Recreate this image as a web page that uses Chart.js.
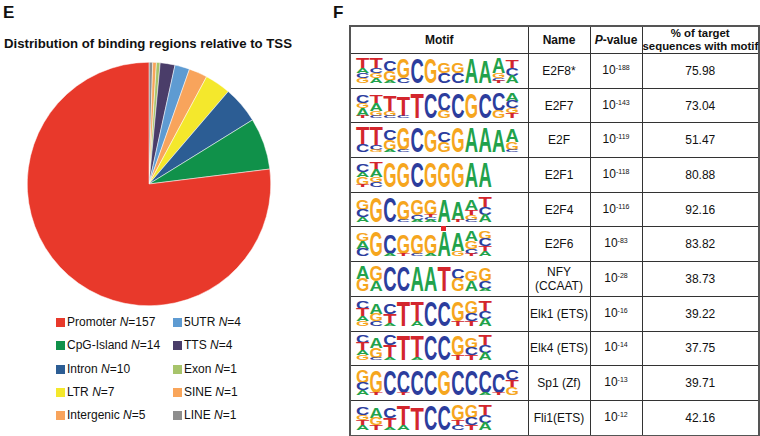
<!DOCTYPE html>
<html><head><meta charset="utf-8">
<script src="https://cdn.jsdelivr.net/npm/chart.js@4"></script>
<style>
body{margin:0;width:760px;height:436px;background:#fff;font-family:"Liberation Sans",Arial,sans-serif;position:relative;overflow:hidden;color:#111}
.panel{position:absolute;font-weight:bold;font-size:17px;line-height:17px}
#title{position:absolute;left:4px;top:37px;font-weight:bold;font-size:13.2px;line-height:14px;white-space:nowrap}
#pieWrap{position:absolute;left:27px;top:62px;width:244px;height:244px}
#legend{position:absolute;left:56px;top:314px;font-size:12px}
.li{position:absolute;white-space:nowrap;height:16px;line-height:16px}
.sw{display:inline-block;width:9px;height:9px;margin-right:2px;vertical-align:-1px}
table{position:absolute;left:349px;top:25px;width:409px;border-collapse:collapse;border:2px solid #555;font-size:12px;table-layout:fixed}
td,th{border:1px solid #333;text-align:center;padding:0;vertical-align:middle;overflow:visible}
th{font-weight:bold;height:25px;line-height:13px;white-space:nowrap}
th.last{font-size:11.4px}
td{height:33.7px;line-height:14px}
.sup{font-size:7px;position:relative;top:-4px}
svg{overflow:visible}
#mark{position:absolute;left:441px;top:226px;width:5px;height:5px;background:#e8262b}
</style></head>
<body>
<div class="panel" style="left:3px;top:4px">E</div>
<div class="panel" style="left:333px;top:4px">F</div>
<div id="title">Distribution of binding regions relative to TSS</div>
<div id="pieWrap"><canvas id="pie" width="244" height="244"></canvas></div>
<div id="legend"></div>
<table id="tbl"></table>
<div id="mark"></div>
<script>
// ---- Panel E data ----
const regionLabels = ["Promoter","CpG-Island","Intron","LTR","Intergenic","5UTR","TTS","Exon","SINE","LINE"];
const regionCounts = [157,14,10,7,5,4,4,1,1,1];
const regionColors = ["#e8392b","#10914a","#2c5d94","#f4e82c","#f8a45c","#5e9bd2","#4a3d69","#a7c46b","#f9a55a","#8e8e8e"];

// ---- Panel F data ----
const tableHeaders = ["Motif","Name","<i>P</i>-value","% of target<br>sequences with motif"];
const motifNames = ["E2F8*","E2F7","E2F","E2F1","E2F4","E2F6","NFY<br>(CCAAT)","Elk1 (ETS)","Elk4 (ETS)","Sp1 (Zf)","Fli1(ETS)"];
const motifPExp = ["-188","-143","-119","-118","-116","-83","-28","-16","-14","-13","-12"];
const motifPercent = ["75.98","73.04","51.47","80.88","92.16","83.82","38.73","39.22","37.75","39.71","42.16"];
const motifLogos = [
 "T4A2C2G2 T4C2G2A2 C4G4A1 G8C2 C10 G10 G4C4 G4C4 A10 A9 A6G2C1T1 T3C3A3",
 "C3G2A3T1 T3A3G2C1 T6G2C1 T8C1 T10 C10 C7G3 C10 G10 C10 C7G3 A3C3G2T2",
 "T7C3 T7C2G1 C4G4A1 G9C1 C10 G9 C4G4 G10 A10 A10 A9 A5G3C1",
 "C3A2G3T1 T3A3G2C2 G10 G10 C10 G10 G10 G10 A10 A10",
 "G4C3A2 G10 C10 G8C1 G6C2A1 G6T1C1A1 A9 A7T1 A4T2G2C1 T4C3A3",
 "G3A3C3 G10 C8A1 G8T1 G8C1 G8A1 A10 A7G2 A4G3C2T1 G3C3T2A2",
 "A5G5 G6A4 C10 C10 A10 A10 T10 C4G5 G4A4 G5C3A1",
 "C3T3A2G2 A4G3C2 C4T4A1 T10 T8A2 C10 C10 G8T2 G5C3T2 T4C3A3",
 "C3T3A2G2 A4G4C1 C4T5A1 T10 T9A1 C10 C10 G8T2 G4C3T2 T4C3A3",
 "G5C3A2 G9T1 C10 C9T1 C10 C10 G10 C10 C10 C9A1 C8T1 C4T3G3",
 "C3G2T2A2 A4G3T2 C4T4A1 T8A2 T9 C10 C10 G6T2C2 G5C3T2 T4C3A3"
];
const letterColor = {A:"#22a24b",C:"#2c3d9d",G:"#f6a61e",T:"#d3262d"};

// ---- Pie (drawn counter-clockwise order as in the figure) ----
new Chart(document.getElementById("pie"), {
  type: "pie",
  data: {
    labels: regionLabels.slice().reverse(),
    datasets: [{
      data: regionCounts.slice().reverse(),
      backgroundColor: regionColors.slice().reverse(),
      borderColor: "#ffffff",
      borderWidth: 0.5
    }]
  },
  options: {
    responsive: false, animation: false, devicePixelRatio: 1,
    layout: {padding: 0},
    plugins: {legend: {display: false}, tooltip: {enabled: false}}
  }
});

// ---- Legend (two columns) ----
const leg = document.getElementById("legend");
regionLabels.forEach((lab, i) => {
  const col = Math.floor(i / 5), row = i % 5;
  const d = document.createElement("div");
  d.className = "li";
  d.style.left = (col * 117) + "px";
  d.style.top = (row * 23.3) + "px";
  d.innerHTML = `<span class="sw" style="background:${regionColors[i]}"></span>${lab} <i>N</i>=${regionCounts[i]}`;
  leg.appendChild(d);
});

// ---- Motif logos ----
function logoSVG(str) {
  const cols = str.split(" ");
  const cw = 13.6, H = 25, bottom = 27;
  let s = `<svg width="172" height="30" xmlns="http://www.w3.org/2000/svg" style="display:block;margin-left:5px">`;
  cols.forEach((tok, i) => {
    const parts = [...tok.matchAll(/([ACGT])(\d+)/g)].map(m => [m[1], +m[2]]);
    const total = parts.reduce((a, p) => a + p[1], 0);
    let y = bottom - total * H / 10;
    parts.forEach(([L, w]) => {
      const h = w * H / 10; y += h;
      const sx = (cw * 0.98) / 70, sy = h / 70;
      s += `<text transform="translate(${(i * cw).toFixed(2)},${y.toFixed(2)}) scale(${sx.toFixed(4)},${sy.toFixed(4)})" font-size="100" font-weight="bold" textLength="70" lengthAdjust="spacingAndGlyphs" fill="${letterColor[L]}" font-family="Liberation Sans, Arial, sans-serif">${L}</text>`;
    });
  });
  return s + "</svg>";
}

// ---- Table ----
const colW = [178, 62, 52, 117];
let html = "<colgroup>" + colW.map(w => `<col style="width:${w}px">`).join("") + "</colgroup>";
html += "<tr>" + tableHeaders.map((h, j) => `<th${j === 3 ? ' class="last"' : ''}>${h}</th>`).join("") + "</tr>";
motifNames.forEach((n, i) => {
  html += `<tr><td style="text-align:left">${logoSVG(motifLogos[i])}</td><td>${n}</td><td>10<span class="sup">${motifPExp[i]}</span></td><td>${motifPercent[i]}</td></tr>`;
});
document.getElementById("tbl").innerHTML = html;
</script>
</body></html>
